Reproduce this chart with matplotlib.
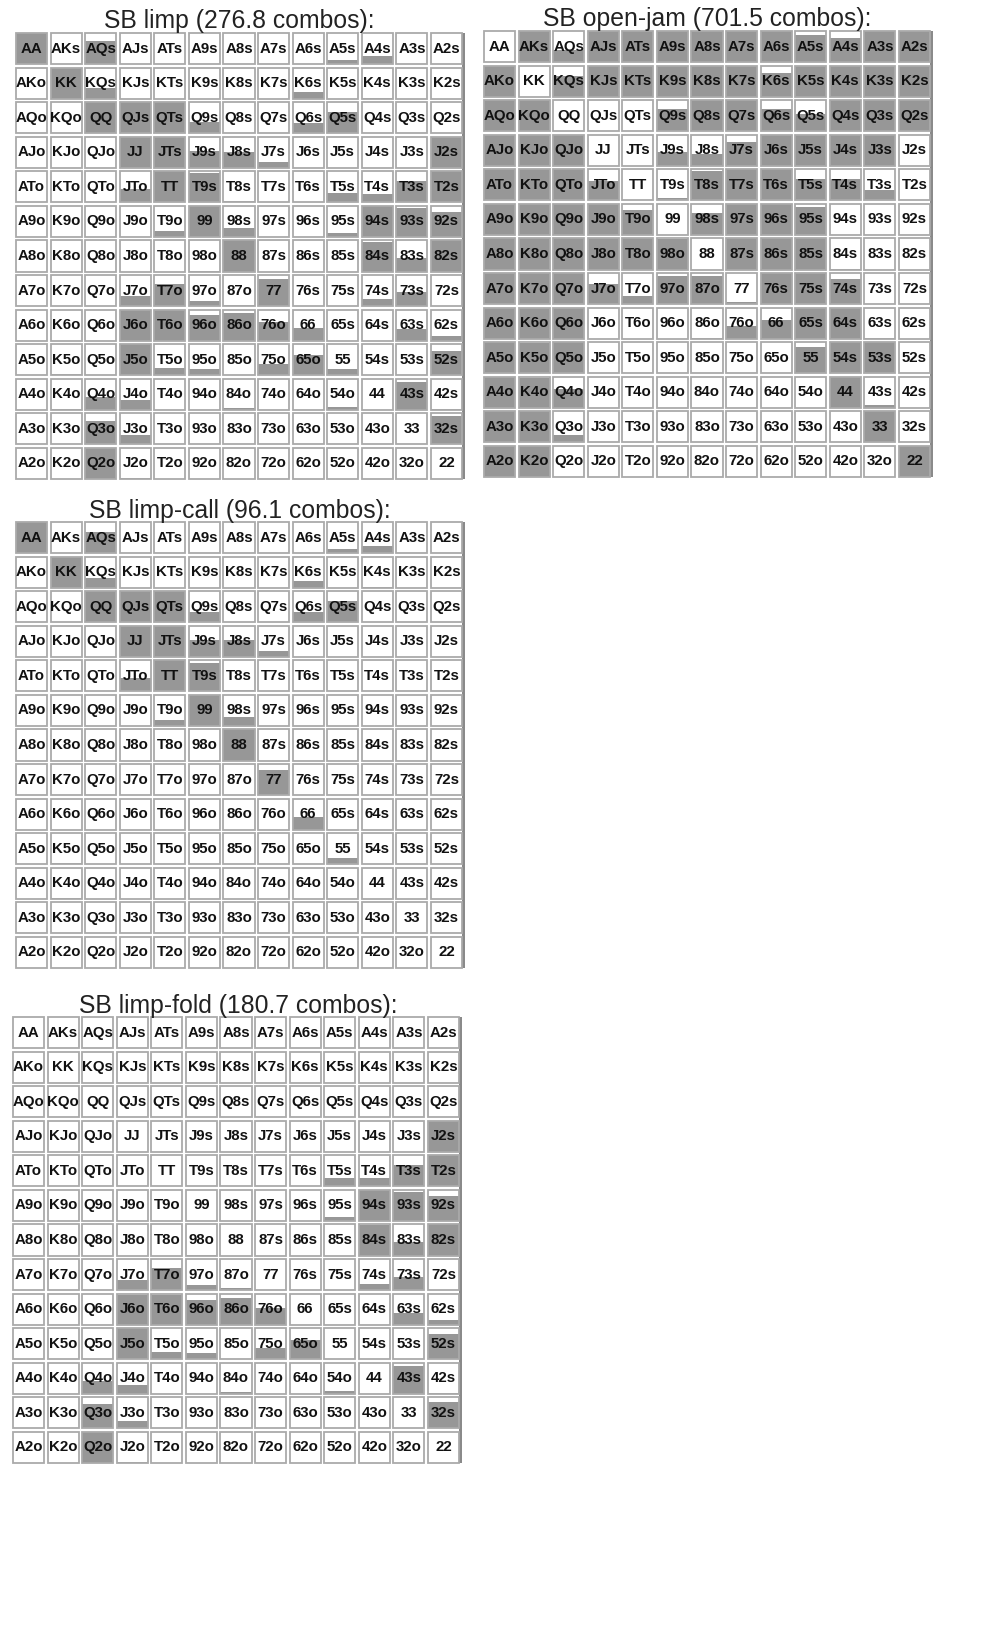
import matplotlib
matplotlib.use("Agg")
import matplotlib.pyplot as plt
from matplotlib.patches import Rectangle

plt.rcParams['font.family'] = ['Liberation Sans', 'DejaVu Sans']

ranks = ['A', 'K', 'Q', 'J', 'T', '9', '8', '7', '6', '5', '4', '3', '2']

titles = ['SB limp (276.8 combos):', 'SB open-jam (701.5 combos):',
          'SB limp-call (96.1 combos):', 'SB limp-fold (180.7 combos):']

# fraction of each hand in the action, row = first rank, col = second rank
limp = [
    [1.0, 0, 0.75, 0, 0, 0, 0, 0, 0, 0.14, 0.25, 0, 0],
    [0, 1.0, 0.35, 0, 0, 0, 0, 0, 0.22, 0, 0.03, 0, 0],
    [0, 0, 1.0, 1.0, 1.0, 0.35, 0, 0, 0.33, 0.68, 0, 0, 0],
    [0, 0, 0, 1.0, 1.0, 0.53, 0.5, 0.2, 0, 0, 0, 0, 1.0],
    [0, 0, 0, 0.43, 1.0, 0.95, 0.03, 0, 0, 0.3, 0.28, 0.68, 1.0],
    [0, 0, 0, 0, 0.18, 1.0, 0.3, 0, 0, 0.12, 1.0, 0.92, 0.8],
    [0, 0, 0, 0, 0, 0.02, 1.0, 0, 0, 0, 0.96, 0.45, 1.0],
    [0, 0, 0, 0.33, 0.72, 0.15, 0.05, 0.88, 0, 0, 0.22, 0.45, 0],
    [0, 0, 0, 1.0, 1.0, 0.82, 0.9, 0.6, 0.4, 0, 0, 0.38, 0.15],
    [0, 0.03, 0, 1.0, 0.25, 0.2, 0, 0.36, 0.66, 0.2, 0, 0, 0.77],
    [0, 0.03, 0.41, 0.33, 0, 0, 0.05, 0, 0, 0.1, 0, 0.9, 0.03],
    [0, 0, 0.76, 0.3, 0, 0, 0, 0, 0, 0, 0, 0, 0.92],
    [0, 0, 1.0, 0.03, 0, 0, 0, 0, 0, 0, 0, 0, 0],
]

open_jam = [
    [0, 1.0, 0.4, 1.0, 1.0, 1.0, 1.0, 1.0, 1.0, 0.88, 0.76, 1.0, 1.0],
    [1.0, 0, 0.67, 1.0, 1.0, 1.0, 1.0, 1.0, 0.77, 1.0, 0.97, 1.0, 1.0],
    [1.0, 1.0, 0, 0, 0, 0.7, 1.0, 1.0, 0.7, 0.54, 1.0, 1.0, 1.0],
    [1.0, 1.0, 1.0, 0, 0, 0.45, 0.37, 0.78, 1.0, 1.0, 1.0, 1.0, 0],
    [1.0, 1.0, 1.0, 0.62, 0, 0.08, 0.95, 1.0, 1.0, 0.7, 0.7, 0.33, 0],
    [1.0, 1.0, 1.0, 1.0, 0.8, 0, 0.7, 1.0, 1.0, 0.9, 0, 0, 0],
    [1.0, 1.0, 1.0, 1.0, 1.0, 0.97, 0, 1.0, 1.0, 1.0, 0.03, 0, 0],
    [1.0, 1.0, 1.0, 0.65, 0.26, 0.9, 0.9, 0.08, 1.0, 1.0, 0.8, 0, 0],
    [1.0, 1.0, 1.0, 0, 0, 0, 0.02, 0.4, 0.6, 1.0, 1.0, 0.03, 0],
    [1.0, 0.97, 1.0, 0, 0, 0, 0, 0, 0, 0.85, 1.0, 1.0, 0],
    [1.0, 0.95, 0.6, 0, 0, 0, 0, 0, 0, 0, 1.0, 0.1, 0],
    [1.0, 1.0, 0.25, 0, 0, 0, 0, 0, 0, 0, 0, 1.0, 0],
    [1.0, 1.0, 0, 0, 0, 0, 0, 0, 0, 0, 0, 0, 1.0],
]

limp_call = [
    [1.0, 0, 0.68, 0, 0, 0, 0, 0, 0, 0.12, 0.22, 0, 0],
    [0, 1.0, 0.3, 0, 0, 0, 0, 0, 0.22, 0, 0.03, 0, 0],
    [0, 0, 1.0, 1.0, 1.0, 0.33, 0, 0, 0.33, 0.68, 0, 0, 0],
    [0, 0, 0, 1.0, 1.0, 0.55, 0.55, 0.2, 0, 0, 0, 0, 0],
    [0, 0, 0, 0.43, 1.0, 0.9, 0.05, 0, 0, 0, 0, 0, 0],
    [0, 0, 0, 0, 0.18, 1.0, 0.3, 0, 0, 0, 0, 0, 0],
    [0, 0, 0, 0, 0, 0, 1.0, 0, 0, 0, 0, 0, 0],
    [0, 0, 0, 0, 0, 0, 0, 0.82, 0, 0, 0, 0, 0],
    [0, 0, 0, 0, 0, 0, 0, 0, 0.4, 0, 0, 0, 0],
    [0, 0.03, 0, 0, 0, 0, 0, 0, 0, 0.2, 0, 0, 0],
    [0, 0.03, 0, 0, 0, 0, 0, 0, 0, 0, 0, 0, 0],
    [0, 0, 0, 0, 0, 0, 0, 0, 0, 0, 0, 0, 0],
    [0, 0, 0, 0, 0, 0, 0, 0, 0, 0, 0, 0, 0],
]

limp_fold = [
    [0, 0, 0, 0, 0, 0, 0, 0, 0, 0, 0, 0, 0],
    [0, 0, 0, 0, 0, 0, 0, 0, 0, 0, 0, 0, 0],
    [0, 0, 0, 0, 0, 0, 0, 0, 0, 0, 0, 0, 0],
    [0, 0, 0, 0, 0, 0, 0, 0, 0, 0, 0, 0, 1.0],
    [0, 0, 0, 0, 0, 0, 0, 0, 0, 0.28, 0.28, 0.68, 1.0],
    [0, 0, 0, 0, 0, 0, 0, 0, 0, 0.12, 1.0, 0.93, 0.8],
    [0, 0, 0, 0, 0, 0.02, 0, 0, 0, 0, 0.97, 0.45, 1.0],
    [0, 0, 0, 0.33, 0.72, 0.15, 0.07, 0, 0, 0, 0.2, 0.42, 0],
    [0, 0, 0, 0.95, 0.95, 0.8, 0.85, 0.55, 0, 0, 0, 0.38, 0.15],
    [0, 0, 0, 1.0, 0.25, 0.2, 0, 0.35, 0.62, 0, 0, 0, 0.8],
    [0, 0, 0.4, 0.3, 0, 0, 0.05, 0, 0, 0.1, 0, 0.88, 0.03],
    [0, 0, 0.8, 0.25, 0, 0, 0, 0, 0, 0, 0, 0, 0.85],
    [0, 0, 1.0, 0.03, 0, 0, 0, 0, 0, 0, 0, 0, 0],
]

grids = [limp, open_jam, limp_call, limp_fold]

W, H = 984, 1648
# pixel position (left, top) of each grid
origins = [(14.25, 31.25), (482.25, 29.25), (14.25, 520.25), (11.25, 1015.25)]
title_pos = [(239, 28), (707, 26), (240, 518), (238, 1013)]
size = 449.5
gap = 0.1
fill_color = '#979797'
edge_color = '#aaaaaa'

fig = plt.figure(figsize=(W / 100, H / 100), dpi=100)


def hand_name(i, j):
    if i == j:
        return ranks[i] + ranks[j]
    if i < j:
        return ranks[i] + ranks[j] + 's'
    return ranks[j] + ranks[i] + 'o'


for g, vals in enumerate(grids):
    left, top = origins[g]
    ax = fig.add_axes([left / W, 1 - (top + size) / H, size / W, size / H])
    ax.set_xlim(0, 13)
    ax.set_ylim(0, 13)
    ax.axis('off')
    inner = 1 - gap
    for i in range(13):
        y0 = 12 - i + gap / 2
        xs = [j + 0.5 for j in range(13)]
        heights = [vals[i][j] * inner for j in range(13)]
        ax.bar(xs, heights, width=inner, bottom=y0, color=fill_color, linewidth=0, zorder=1)
        for j in range(13):
            ax.add_patch(Rectangle((j + gap / 2, y0), inner, inner, facecolor='none',
                                   edgecolor=edge_color, linewidth=1.3, zorder=2))
            ax.text(j + 0.5, y0 + inner / 2, hand_name(i, j), ha='center', va='center',
                    fontsize=10.8, fontweight='bold', color='#111111', zorder=3)
    # darker strip along the right side of the grid
    ax.add_patch(Rectangle((13 - gap / 2, gap / 2), 0.09, 13 - gap, facecolor='#8a8a8a',
                           edgecolor='none', clip_on=False, zorder=1))
    tx, ty = title_pos[g]
    fig.text(tx / W, 1 - ty / H, titles[g], ha='center', va='baseline',
             fontsize=17.8, color='#222222')

fig.savefig('out.png', dpi=100)
